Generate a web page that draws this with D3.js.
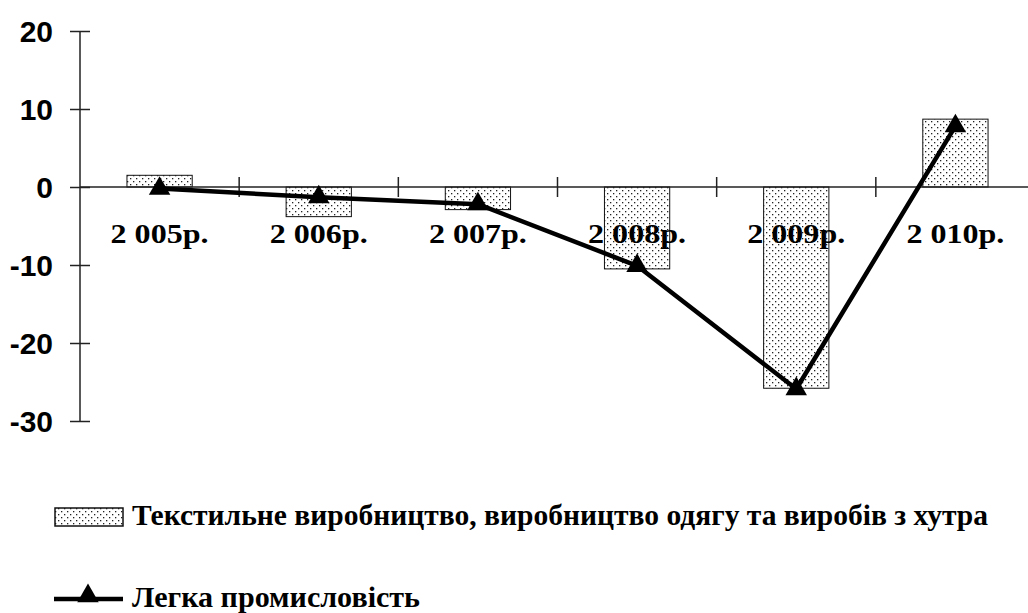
<!DOCTYPE html>
<html>
<head>
<meta charset="utf-8">
<script src="https://cdn.jsdelivr.net/npm/d3@7"></script>
</head>
<body style="margin:0">
<svg id="chart" width="1028" height="613"></svg>
<script>
// Data
const years = ['2 005р.', '2 006р.', '2 007р.', '2 008р.', '2 009р.', '2 010р.']
const textile = [1.5, -3.8, -2.9, -10.5, -25.8, 8.7]
const light = [-0.2, -1.3, -2.2, -10.1, -25.9, 7.8]
const yTicks = [20, 10, 0, -10, -20, -30]
const legendBar = 'Текстильне виробництво, виробництво одягу та виробів з хутра'
const legendLine = 'Легка промисловість'

const svg = d3.select('#chart')
  .attr('font-family', 'Liberation Serif')
  .attr('font-weight', 'bold')

// dotted fill for the bars
const pat = svg.append('defs').append('pattern')
  .attr('id', 'dots')
  .attr('patternUnits', 'userSpaceOnUse')
  .attr('width', 6).attr('height', 6)
pat.append('rect').attr('width', 6).attr('height', 6).attr('fill', '#fff')
pat.append('rect').attr('x', 1).attr('y', 1).attr('width', 1.3).attr('height', 1.3).attr('fill', '#222')
pat.append('rect').attr('x', 4).attr('y', 4).attr('width', 1.3).attr('height', 1.3).attr('fill', '#222')

const x = d3.scaleBand().domain(years).range([80, 1035]).padding(0)
const y = d3.scaleLinear().domain([-30, 20]).range([421, 31])
const barW = x.bandwidth() * 0.41

// bars
svg.selectAll('.bar')
  .data(textile)
  .enter()
  .append('rect')
  .attr('class', 'bar')
  .attr('x', (d, i) => x(years[i]) + (x.bandwidth() - barW) / 2)
  .attr('y', d => y(Math.max(0, d)))
  .attr('width', barW)
  .attr('height', d => Math.abs(y(d) - y(0)))
  .attr('fill', 'url(#dots)')
  .attr('stroke', '#111')
  .attr('stroke-width', 1)

// y axis
const yAxis = svg.append('g').attr('transform', 'translate(80,0)')
  .call(d3.axisLeft(y).tickValues(yTicks).tickSize(0).tickFormat(d => String(d)))
yAxis.attr('font-family', 'Liberation Sans').attr('font-size', 30)
yAxis.select('.domain').remove()
yAxis.append('line')
  .attr('x1', 0).attr('x2', 0).attr('y1', y(20)).attr('y2', y(-30))
  .attr('stroke', '#222').attr('stroke-width', 1.5)
yAxis.selectAll('.tick').append('line')
  .attr('x1', -10).attr('x2', 10)
  .attr('stroke', '#222').attr('stroke-width', 1.5)
yAxis.selectAll('.tick text')
  .attr('x', -27)
  .attr('dy', '0.36em')
  .attr('fill', '#000')

// x axis at zero
svg.append('line')
  .attr('x1', 80).attr('x2', 1035).attr('y1', y(0)).attr('y2', y(0))
  .attr('stroke', '#222').attr('stroke-width', 1.5)
svg.selectAll('.xtick')
  .data(years.slice(1))
  .enter()
  .append('line')
  .attr('class', 'xtick')
  .attr('x1', d => x(d)).attr('x2', d => x(d))
  .attr('y1', y(0) - 10).attr('y2', y(0) + 10)
  .attr('stroke', '#222').attr('stroke-width', 1.5)

// line series
const line = d3.line()
  .x((d, i) => x(years[i]) + x.bandwidth() / 2)
  .y(d => y(d))
svg.append('path')
  .datum(light)
  .attr('d', line)
  .attr('fill', 'none')
  .attr('stroke', '#000')
  .attr('stroke-width', 4.5)
  .attr('stroke-linejoin', 'round')

const tri = d3.symbol().type(d3.symbolTriangle).size(200)
svg.selectAll('.marker')
  .data(light)
  .enter()
  .append('path')
  .attr('class', 'marker')
  .attr('transform', (d, i) => `translate(${x(years[i]) + x.bandwidth() / 2},${y(d)})`)
  .attr('d', tri)
  .attr('fill', '#000')

// category labels
svg.selectAll('.xlabel')
  .data(years)
  .enter()
  .append('text')
  .attr('class', 'xlabel')
  .attr('x', d => x(d) + x.bandwidth() / 2 - 49)
  .attr('y', 243)
  .attr('font-family', 'Liberation Serif')
  .attr('font-size', 27)
  .attr('textLength', 98)
  .attr('lengthAdjust', 'spacingAndGlyphs')
  .text(d => d)

// legend
svg.append('rect')
  .attr('x', 55).attr('y', 508).attr('width', 68).attr('height', 18)
  .attr('fill', 'url(#dots)').attr('stroke', '#111').attr('stroke-width', 1.5)
svg.append('text')
  .attr('x', 132).attr('y', 525)
  .attr('font-family', 'Liberation Serif')
  .attr('font-size', 30)
  .attr('textLength', 856)
  .attr('lengthAdjust', 'spacingAndGlyphs')
  .text(legendBar)

svg.append('line')
  .attr('x1', 54).attr('x2', 123).attr('y1', 599).attr('y2', 599)
  .attr('stroke', '#000').attr('stroke-width', 4.5)
svg.append('path')
  .attr('transform', 'translate(88,596)')
  .attr('d', tri)
  .attr('fill', '#000')
svg.append('text')
  .attr('x', 132).attr('y', 607)
  .attr('font-family', 'Liberation Serif')
  .attr('font-size', 29)
  .attr('textLength', 288)
  .attr('lengthAdjust', 'spacingAndGlyphs')
  .text(legendLine)
</script>
</body>
</html>
